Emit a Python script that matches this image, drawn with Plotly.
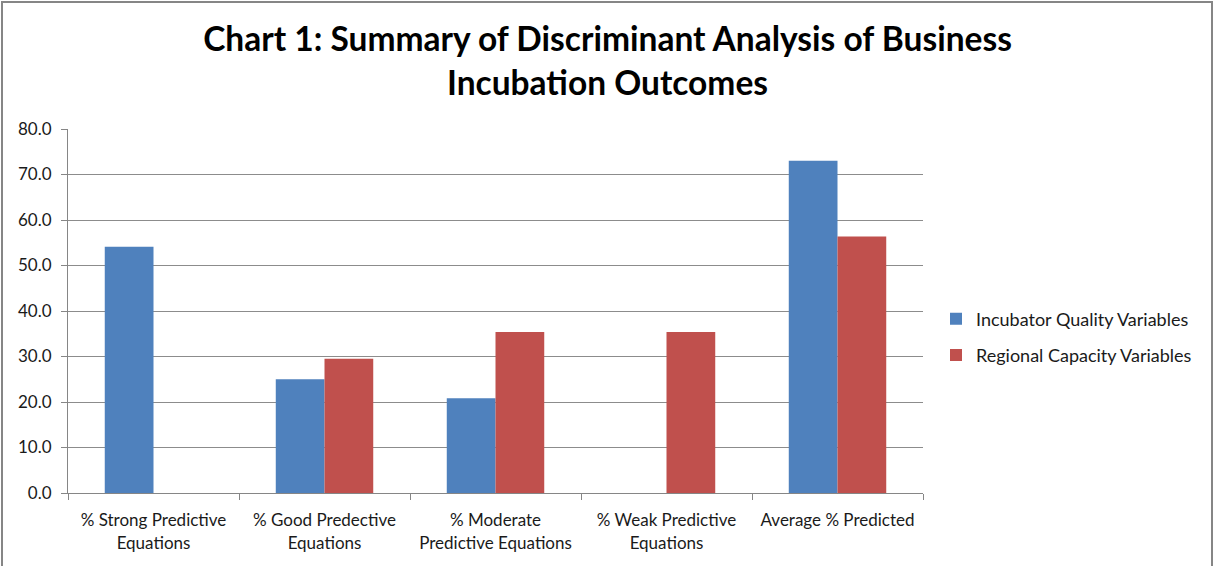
import plotly.graph_objects as go

categories = ["% Strong Predictive<br>Equations", "% Good Predective<br>Equations",
              "% Moderate<br>Predictive Equations", "% Weak Predictive<br>Equations",
              "Average % Predicted"]
incubator_quality = [54.1, 25.0, 20.8, 0.0, 73.0]
regional_capacity = [0.0, 29.5, 35.4, 35.4, 56.4]
series_names = ["Incubator Quality Variables", "Regional Capacity Variables"]
y_ticks = [0, 10, 20, 30, 40, 50, 60, 70, 80]

FONT = "Lato, 'Open Sans', sans-serif"
TXT = "#1a1a1a"
fig = go.Figure()
fig.add_trace(go.Bar(x=categories, y=incubator_quality, name=series_names[0], legendgroup="a",
                     marker=dict(color="#4F81BD", line=dict(width=0))))
fig.add_trace(go.Bar(x=categories, y=regional_capacity, name=series_names[1], legendgroup="b",
                     marker=dict(color="#C0504D", line=dict(width=0))))

W, H = 1215, 566
L, T = 68, 129
pw, ph = 855, 364
R, B = W - L - pw, H - T - ph
bottom = T + ph

def px_x(x):
    return (x - L) / pw

def px_y(y):
    return (bottom - y) / ph

fig.update_layout(
    width=W, height=H,
    margin=dict(l=L, r=R, t=T, b=B),
    paper_bgcolor="white", plot_bgcolor="white",
    barmode="group", bargap=0.43, bargroupgap=0,
    title=dict(text="<b>Chart 1: Summary of Discriminant Analysis of Business<br>Incubation Outcomes</b>",
               x=0.5, xanchor="center", y=1 - 51 / H, yanchor="middle",
               font=dict(family=FONT, size=33.5, color="black")),
    font=dict(family=FONT, size=17, color=TXT),
    legend=dict(x=px_x(936), y=px_y(337), xanchor="left", yanchor="middle",
                font=dict(size=18, color=TXT), tracegroupgap=10, itemwidth=30),
    showlegend=True,
    xaxis=dict(showline=True, linecolor="#868686", linewidth=1, ticks="outside",
               tickson="boundaries", ticklen=6, tickcolor="#868686", ticklabelstandoff=12,
               tickfont=dict(size=17, color=TXT), showgrid=False),
    yaxis=dict(range=[0, 80], tickvals=y_ticks, ticktext=[f"{v:.1f}" for v in y_ticks],
               showgrid=True, gridcolor="#8c8c8c", gridwidth=1, showline=True,
               linecolor="#868686", ticks="outside", ticklen=6, tickcolor="#868686",
               ticklabelstandoff=6,
               tickfont=dict(size=17, color=TXT), zeroline=False),
)
fig.add_shape(type="rect", xref="paper", yref="paper",
              x0=px_x(2), x1=px_x(1212), y0=px_y(575), y1=px_y(2),
              line=dict(color="#868686", width=2), fillcolor="rgba(0,0,0,0)", layer="below")
fig.write_html("out.html", config={"displayModeBar": False},
               post_script="document.body.style.margin='0px';document.body.style.overflow='hidden';")
